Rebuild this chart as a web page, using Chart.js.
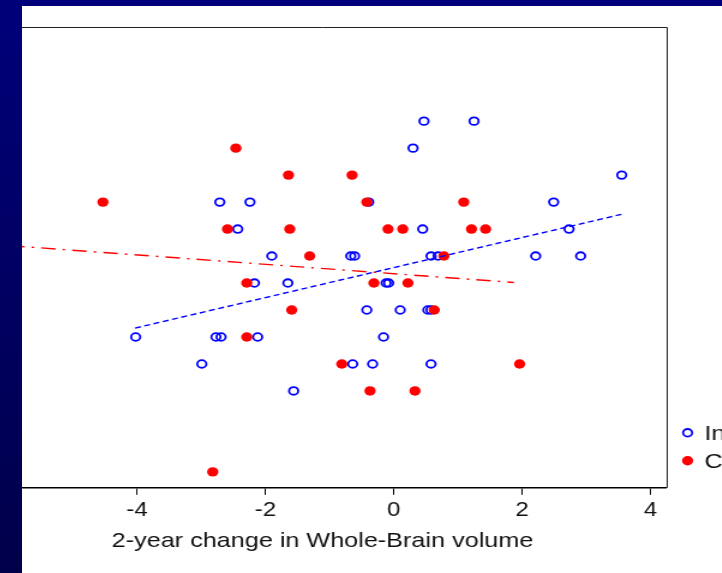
<!DOCTYPE html>
<html>
<head>
<meta charset="utf-8">
<script src="https://cdn.jsdelivr.net/npm/chart.js@4"></script>
<style>
  html, body { margin: 0; padding: 0; }
  body { width: 722px; height: 573px; position: relative; overflow: hidden; background: #fff; }
  #sideBar { position: absolute; left: 0; top: 0; width: 22px; height: 573px; background: linear-gradient(#00007a, #00004a); z-index: 2; }
  #topBar { position: absolute; left: 0; top: 0; width: 722px; height: 6px; background: #00007a; z-index: 2; }
  #chart { position: absolute; left: -21px; top: 6px; transform: scaleX(1.2); transform-origin: 0 0; }
</style>
</head>
<body>
<div id="topBar"></div>
<div id="sideBar"></div>
<canvas id="chart" width="619" height="567"></canvas>
<script>
// values (y is the discrete score level)
const blueX = [0.47, 1.25, 0.30, 3.55,
  -2.71, -2.24, -0.39, 2.49,
  -2.43, 0.45, 2.73,
  -1.90, -0.67, -0.61, 0.58, 0.69, 2.21, 2.91,
  -2.17, -1.65, -0.12, -0.08,
  -0.42, 0.10, 0.53, 0.58,
  -4.02, -2.77, -2.69, -2.12, -0.16,
  -2.99, -0.64, -0.33, 0.58,
  -1.56];
const blueY = [13, 13, 12, 11,
  10, 10, 10, 10,
  9, 9, 9,
  8, 8, 8, 8, 8, 8, 8,
  7, 7, 7, 7,
  6, 6, 6, 6,
  5, 5, 5, 5, 5,
  4, 4, 4, 4,
  3];

const redX = [-2.46,
  -1.64, -0.65,
  -4.53, -0.42, 1.09,
  -2.59, -1.62, -0.09, 0.14, 1.21, 1.43,
  -1.31, 0.78,
  -2.29, -0.31, 0.22,
  -1.59, 0.63,
  -2.29,
  -0.81, 1.96,
  -0.37, 0.33,
  -2.82];
const redY = [12,
  11, 11,
  10, 10, 10,
  9, 9, 9, 9, 9, 9,
  8, 8,
  7, 7, 7,
  6, 6,
  5,
  4, 4,
  3, 3,
  0];

// fitted lines (end points)
const blueFitX = [-4.03, 3.57];
const blueFitY = [5.33, 9.56];
const redFitX = [-6.46, 1.87];
const redFitY = [8.47, 7.02];

const xTicks = [-4, -2, 0, 2, 4];
const xRange = [-6.46, 4.24];
const yRange = [-0.59, 16.49];

const seriesNames = ["Intervention", "Control"];
const xTitle = "2-year change in Whole-Brain volume";

const FONT = "'Liberation Sans', Arial, Helvetica, sans-serif";

function toPoints(xs, ys) {
  return xs.map((x, i) => ({ x: x, y: ys[i] }));
}

// top and right sides of the plot box
const boxPlugin = {
  id: "box",
  afterDraw(chart) {
    const { ctx, chartArea: a } = chart;
    ctx.save();
    ctx.strokeStyle = "#222";
    ctx.lineWidth = 1;
    ctx.beginPath();
    ctx.moveTo(a.left, a.top + 0.5);
    ctx.lineTo(Math.round(a.right) + 0.5, a.top + 0.5);
    ctx.lineTo(Math.round(a.right) + 0.5, a.bottom);
    ctx.stroke();
    ctx.restore();
  },
};

// legend drawn to the right of the box, as in the original
const legendPlugin = {
  id: "sideLegend",
  afterDraw(chart) {
    const { ctx, chartArea: a } = chart;
    const items = seriesNames.map((n) => chart.data.datasets.find((d) => d.label === n));
    ctx.save();
    items.forEach((d, i) => {
      const cy = a.bottom - 55 + i * 28;
      const cx = a.right + 18;
      ctx.beginPath();
      ctx.arc(cx, cy, d.pointRadius, 0, Math.PI * 2);
      if (d.filled) {
        ctx.fillStyle = d.backgroundColor;
        ctx.fill();
      } else {
        ctx.strokeStyle = d.borderColor;
        ctx.lineWidth = d.borderWidth;
        ctx.stroke();
      }
      ctx.fillStyle = "#111";
      ctx.font = "21px " + FONT;
      ctx.textBaseline = "middle";
      ctx.fillText(d.label, a.right + 32, cy + 1);
    });
    ctx.restore();
  },
};

new Chart(document.getElementById("chart"), {
  type: "scatter",
  data: {
    datasets: [
      {
        label: seriesNames[1],
        data: toPoints(redX, redY),
        backgroundColor: "#ff0000",
        borderWidth: 0,
        pointRadius: 4.7,
        filled: true,
        order: 2,
      },
      {
        label: seriesNames[0],
        data: toPoints(blueX, blueY),
        backgroundColor: "rgba(0,0,0,0)",
        borderColor: "#0000ff",
        borderWidth: 1.8,
        pointRadius: 3.8,
        filled: false,
        order: 3,
      },
      {
        label: "fit-intervention",
        type: "line",
        data: toPoints(blueFitX, blueFitY),
        borderColor: "#0000ff",
        borderWidth: 1.4,
        borderDash: [5, 3],
        pointRadius: 0,
        fill: false,
        order: 1,
      },
      {
        label: "fit-control",
        type: "line",
        data: toPoints(redFitX, redFitY),
        borderColor: "#ff0000",
        borderWidth: 1.4,
        borderDash: [12, 6, 2, 6],
        pointRadius: 0,
        fill: false,
        order: 1,
      },
    ],
  },
  options: {
    responsive: false,
    animation: false,
    layout: { autoPadding: false, padding: { top: 21, right: 46.5, left: 0, bottom: 19 } },
    plugins: { legend: { display: false }, tooltip: { enabled: false } },
    scales: {
      x: {
        type: "linear",
        min: xRange[0],
        max: xRange[1],
        afterBuildTicks: (axis) => {
          axis.ticks = xTicks.map((v) => ({ value: v }));
        },
        grid: { drawOnChartArea: false, drawTicks: true, tickLength: 7, color: "#000", lineWidth: 1 },
        border: { display: true, color: "#000", width: 1.5 },
        ticks: {
          padding: 6,
          maxRotation: 0,
          color: "#111",
          font: { family: FONT, size: 20, lineHeight: 0.95 },
          callback: (v) => String(v),
        },
        title: {
          display: true,
          text: xTitle,
          color: "#111",
          font: { family: FONT, size: 21 },
          padding: { top: 3, bottom: 0 },
        },
      },
      y: { display: false, min: yRange[0], max: yRange[1] },
    },
  },
  plugins: [boxPlugin, legendPlugin],
});
</script>
</body>
</html>
